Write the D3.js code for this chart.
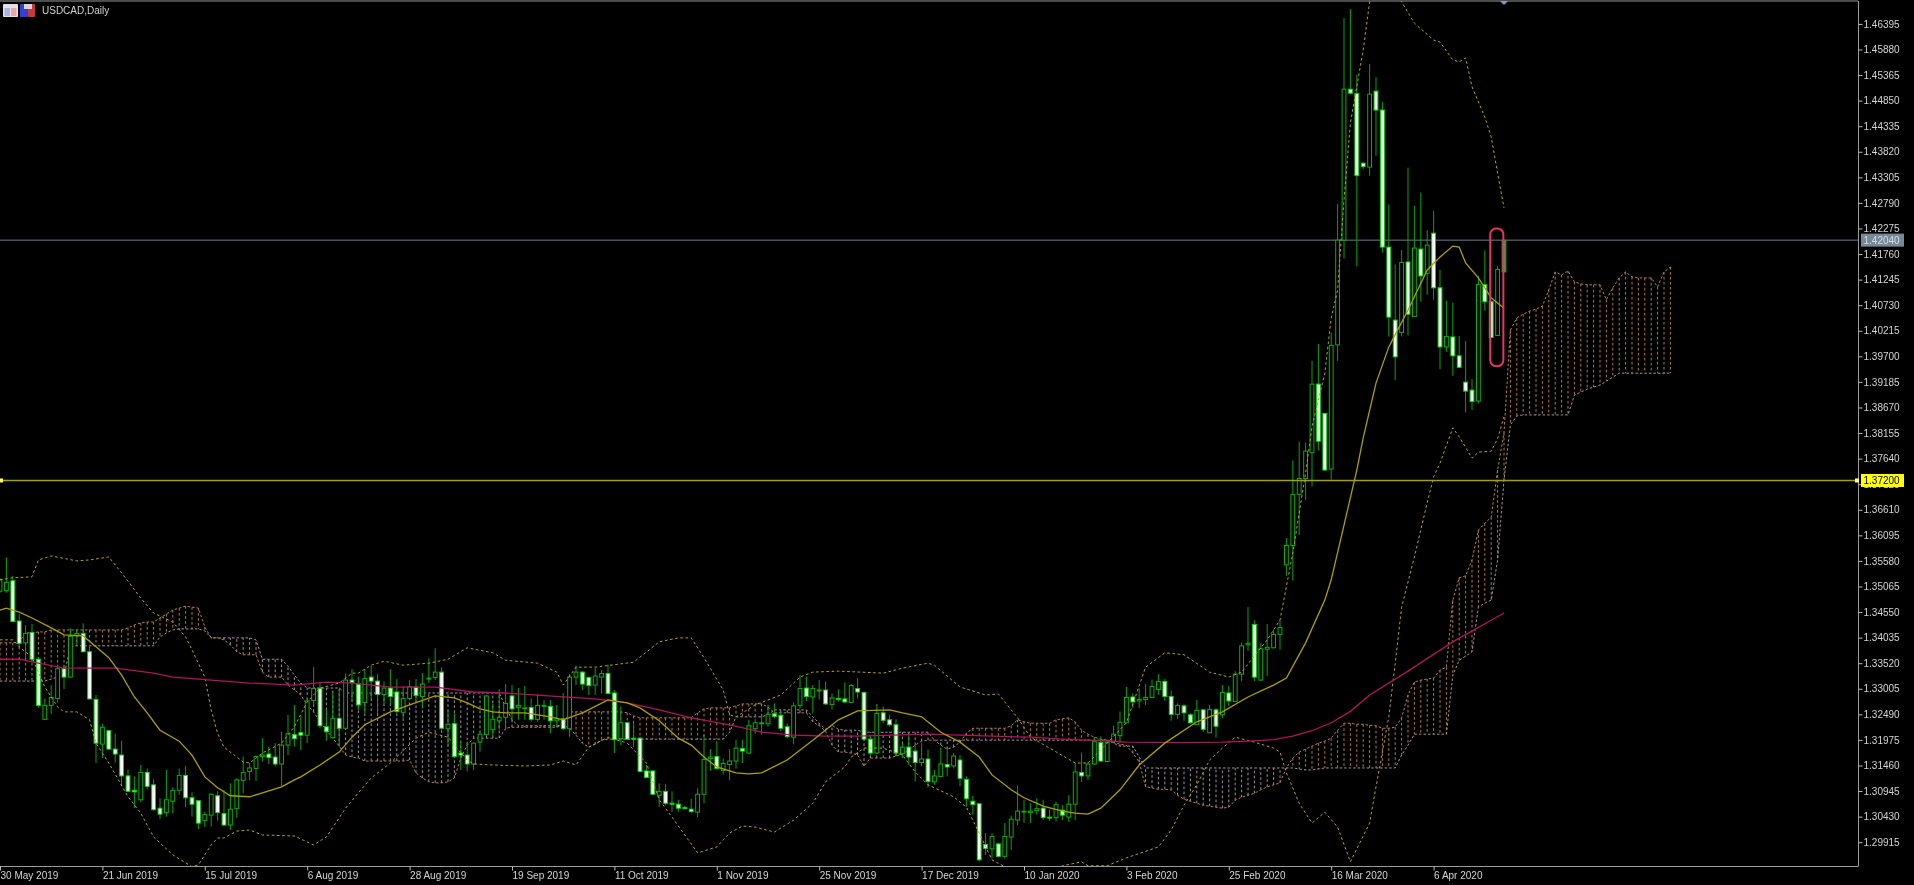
<!DOCTYPE html>
<html><head><meta charset="utf-8">
<script src="https://cdn.jsdelivr.net/npm/d3@7"></script>
<style>html,body{margin:0;padding:0;background:#000;overflow:hidden}svg{display:block}text{font-family:"Liberation Sans",Arial,sans-serif}</style>
</head><body><div id="c"></div>
<script>
const title="USDCAD,Daily";
const priceTicks=["1.46395","1.45880","1.45365","1.44850","1.44335","1.43820","1.43305","1.42790","1.42275","1.41760","1.41245","1.40730","1.40215","1.39700","1.39185","1.38670","1.38155","1.37640","1.37125","1.36610","1.36095","1.35580","1.35065","1.34550","1.34035","1.33520","1.33005","1.32490","1.31975","1.31460","1.30945","1.30430","1.29915"];
const dateTicks=["30 May 2019","21 Jun 2019","15 Jul 2019","6 Aug 2019","28 Aug 2019","19 Sep 2019","11 Oct 2019","1 Nov 2019","25 Nov 2019","17 Dec 2019","10 Jan 2020","3 Feb 2020","25 Feb 2020","16 Mar 2020","6 Apr 2020"];
const dateTickBars=[0,16,32,48,64,80,96,112,128,144,160,176,192,208,224];
const bidLevel=1.42040, lineLevel=1.37200;
const opens=[1.3497,1.3498,1.3518,1.3437,1.3393,1.3414,1.3360,1.3239,1.3267,1.3281,
1.3341,1.3324,1.3407,1.3412,1.3375,1.3279,1.3189,1.3216,1.3179,1.3167,
1.3125,1.3096,1.3077,1.3132,1.3107,1.3060,1.3051,1.3074,1.3096,1.3126,
1.3081,1.3075,1.3035,1.3046,1.3085,1.3049,1.3026,1.3059,1.3116,1.3134,
1.3140,1.3164,1.3169,1.3163,1.3149,1.3187,1.3208,1.3212,1.3207,1.3277,
1.3301,1.3224,1.3202,1.3241,1.3221,1.3318,1.3310,1.3273,1.3324,1.3316,
1.3289,1.3302,1.3294,1.3253,1.3281,1.3304,1.3285,1.3321,1.3323,1.3334,
1.3220,1.3230,1.3171,1.3167,1.3149,1.3193,1.3208,1.3218,1.3236,1.3243,
1.3286,1.3263,1.3260,1.3263,1.3239,1.3265,1.3265,1.3236,1.3240,1.3220,
1.3324,1.3334,1.3323,1.3308,1.3324,1.3331,1.3292,1.3200,1.3232,1.3201,
1.3201,1.3135,1.3135,1.3086,1.3094,1.3070,1.3068,1.3061,1.3058,1.3052,
1.3088,1.3160,1.3164,1.3136,1.3148,1.3155,1.3180,1.3171,1.3220,1.3230,
1.3230,1.3250,1.3247,1.3224,1.3203,1.3267,1.3302,1.3284,1.3297,1.3298,
1.3269,1.3281,1.3280,1.3273,1.3301,1.3293,1.3199,1.3171,1.3252,1.3238,
1.3228,1.3170,1.3183,1.3175,1.3152,1.3159,1.3113,1.3124,1.3148,1.3145,
1.3157,1.3118,1.3074,1.3069,1.2987,1.2978,1.2988,1.2963,1.3002,1.3036,
1.3052,1.3051,1.3055,1.3060,1.3042,1.3041,1.3056,1.3042,1.3068,1.3132,
1.3125,1.3149,1.3192,1.3154,1.3195,1.3206,1.3232,1.3284,1.3276,1.3279,
1.3283,1.3299,1.3315,1.3285,1.3249,1.3266,1.3248,1.3228,1.3258,1.3212,
1.3258,1.3248,1.3292,1.3275,1.3330,1.3389,1.3430,1.3318,1.3380,1.3383,
1.3410,1.3550,1.3589,1.3692,1.3724,1.3776,1.3914,1.3855,1.3743,1.3993,
1.4204,1.4508,1.4499,1.4359,1.4351,1.4504,1.4466,1.4190,1.4043,1.4018,
1.4160,1.4050,1.4186,1.4137,1.4218,1.4108,1.3989,1.4009,1.3971,1.3918,
1.3902,1.3880,1.4114,1.4080,1.4012,1.4140];
const closes=[1.3520,1.3515,1.3436,1.3392,1.3412,1.3360,1.3267,1.3267,1.3283,1.3341,
1.3324,1.3406,1.3412,1.3375,1.3280,1.3191,1.3223,1.3179,1.3169,1.3125,
1.3094,1.3093,1.3132,1.3104,1.3057,1.3048,1.3077,1.3096,1.3126,1.3081,
1.3068,1.3030,1.3047,1.3088,1.3051,1.3026,1.3058,1.3117,1.3132,1.3141,
1.3164,1.3167,1.3162,1.3149,1.3187,1.3210,1.3200,1.3207,1.3276,1.3301,
1.3226,1.3214,1.3241,1.3221,1.3318,1.3313,1.3268,1.3321,1.3316,1.3289,
1.3302,1.3285,1.3255,1.3281,1.3305,1.3287,1.3310,1.3322,1.3334,1.3221,
1.3229,1.3164,1.3167,1.3149,1.3191,1.3209,1.3286,1.3239,1.3243,1.3271,
1.3260,1.3267,1.3262,1.3239,1.3267,1.3267,1.3236,1.3240,1.3220,1.3324,
1.3334,1.3310,1.3307,1.3326,1.3331,1.3291,1.3198,1.3232,1.3199,1.3200,
1.3134,1.3122,1.3088,1.3094,1.3070,1.3069,1.3060,1.3059,1.3053,1.3088,
1.3158,1.3163,1.3140,1.3150,1.3155,1.3181,1.3175,1.3226,1.3232,1.3232,
1.3249,1.3245,1.3221,1.3204,1.3266,1.3301,1.3285,1.3301,1.3298,1.3270,
1.3282,1.3279,1.3274,1.3307,1.3294,1.3199,1.3171,1.3251,1.3237,1.3228,
1.3171,1.3183,1.3163,1.3152,1.3159,1.3114,1.3125,1.3149,1.3143,1.3165,
1.3120,1.3079,1.3067,1.2956,1.2979,1.3003,1.2963,1.3003,1.3038,1.3054,
1.3054,1.3054,1.3059,1.3041,1.3040,1.3067,1.3046,1.3068,1.3133,1.3125,
1.3149,1.3194,1.3155,1.3192,1.3209,1.3233,1.3283,1.3274,1.3279,1.3283,
1.3305,1.3315,1.3285,1.3249,1.3267,1.3252,1.3232,1.3257,1.3219,1.3259,
1.3225,1.3293,1.3276,1.3330,1.3387,1.3392,1.3324,1.3381,1.3384,1.3410,
1.3424,1.3589,1.3692,1.3724,1.3779,1.3914,1.3799,1.3741,1.3992,1.4204,
1.4508,1.4500,1.4334,1.4352,1.4498,1.4466,1.4190,1.4049,1.3969,1.4159,
1.4055,1.4188,1.4132,1.4194,1.4108,1.3989,1.4010,1.3971,1.3948,1.3900,
1.3879,1.4115,1.4080,1.4008,1.4145,1.4204];
const highs=[1.3523,1.3565,1.3528,1.3451,1.3429,1.3431,1.3364,1.3281,1.3308,1.3349,
1.3349,1.3422,1.3420,1.3432,1.3389,1.3288,1.3230,1.3218,1.3210,1.3196,
1.3138,1.3124,1.3147,1.3140,1.3118,1.3080,1.3137,1.3102,1.3140,1.3145,
1.3092,1.3075,1.3053,1.3090,1.3094,1.3096,1.3110,1.3120,1.3164,1.3151,
1.3166,1.3201,1.3184,1.3191,1.3214,1.3248,1.3268,1.3246,1.3281,1.3344,
1.3315,1.3258,1.3293,1.3298,1.3332,1.3340,1.3325,1.3340,1.3347,1.3330,
1.3315,1.3340,1.3320,1.3305,1.3318,1.3320,1.3332,1.3362,1.3382,1.3344,
1.3258,1.3251,1.3194,1.3194,1.3192,1.3211,1.3287,1.3271,1.3300,1.3310,
1.3308,1.3302,1.3306,1.3281,1.3290,1.3278,1.3278,1.3268,1.3292,1.3330,
1.3347,1.3336,1.3325,1.3342,1.3338,1.3349,1.3298,1.3265,1.3234,1.3231,
1.3204,1.3147,1.3135,1.3110,1.3109,1.3094,1.3077,1.3065,1.3079,1.3100,
1.3208,1.3179,1.3195,1.3160,1.3179,1.3198,1.3198,1.3238,1.3239,1.3248,
1.3268,1.3271,1.3255,1.3231,1.3273,1.3328,1.3325,1.3308,1.3318,1.3315,
1.3291,1.3299,1.3313,1.3310,1.3322,1.3295,1.3207,1.3270,1.3265,1.3248,
1.3239,1.3191,1.3207,1.3186,1.3191,1.3178,1.3137,1.3182,1.3181,1.3171,
1.3167,1.3124,1.3085,1.3069,1.3010,1.3010,1.2990,1.3030,1.3045,1.3106,
1.3077,1.3070,1.3080,1.3077,1.3058,1.3073,1.3066,1.3086,1.3151,1.3172,
1.3153,1.3201,1.3205,1.3196,1.3226,1.3255,1.3304,1.3291,1.3301,1.3310,
1.3319,1.3330,1.3320,1.3297,1.3271,1.3269,1.3251,1.3278,1.3259,1.3268,
1.3261,1.3308,1.3306,1.3336,1.3394,1.3465,1.3438,1.3392,1.3431,1.3420,
1.3439,1.3604,1.3760,1.3798,1.3796,1.3961,1.3995,1.3856,1.4018,1.4277,
1.4651,1.4669,1.4537,1.4361,1.4559,1.4532,1.4482,1.4276,1.4155,1.4184,
1.4350,1.4273,1.4300,1.4224,1.4263,1.4144,1.4082,1.4078,1.4011,1.4001,
1.3924,1.4132,1.4183,1.4082,1.4152,1.4204];
const lows=[1.3494,1.3494,1.3434,1.3385,1.3362,1.3355,1.3263,1.3238,1.3250,1.3273,
1.3300,1.3323,1.3389,1.3375,1.3279,1.3151,1.3161,1.3177,1.3152,1.3107,
1.3092,1.3060,1.3072,1.3098,1.3055,1.3038,1.3043,1.3049,1.3087,1.3062,
1.3043,1.3018,1.3022,1.3023,1.3035,1.3026,1.3016,1.3041,1.3090,1.3116,
1.3115,1.3154,1.3149,1.3144,1.3104,1.3167,1.3184,1.3177,1.3191,1.3265,
1.3221,1.3196,1.3201,1.3184,1.3220,1.3275,1.3258,1.3251,1.3281,1.3251,
1.3270,1.3268,1.3251,1.3241,1.3278,1.3275,1.3261,1.3312,1.3318,1.3218,
1.3187,1.3161,1.3137,1.3134,1.3137,1.3174,1.3206,1.3204,1.3218,1.3218,
1.3238,1.3238,1.3238,1.3234,1.3234,1.3238,1.3211,1.3223,1.3218,1.3204,
1.3308,1.3298,1.3288,1.3288,1.3291,1.3289,1.3171,1.3187,1.3198,1.3183,
1.3132,1.3120,1.3087,1.3063,1.3066,1.3053,1.3053,1.3058,1.3051,1.3042,
1.3070,1.3135,1.3137,1.3128,1.3116,1.3140,1.3151,1.3169,1.3210,1.3208,
1.3224,1.3241,1.3215,1.3201,1.3189,1.3261,1.3275,1.3251,1.3279,1.3268,
1.3259,1.3275,1.3271,1.3271,1.3281,1.3197,1.3167,1.3169,1.3231,1.3224,
1.3164,1.3161,1.3147,1.3114,1.3145,1.3102,1.3107,1.3122,1.3124,1.3140,
1.3104,1.3063,1.3047,1.2953,1.2966,1.2959,1.2961,1.2959,1.2976,1.3026,
1.3030,1.3030,1.3047,1.3036,1.3034,1.3033,1.3036,1.3032,1.3036,1.3113,
1.3117,1.3147,1.3153,1.3154,1.3191,1.3191,1.3232,1.3262,1.3262,1.3268,
1.3282,1.3288,1.3276,1.3236,1.3239,1.3236,1.3230,1.3227,1.3214,1.3211,
1.3202,1.3241,1.3266,1.3274,1.3316,1.3377,1.3316,1.3316,1.3326,1.3382,
1.3379,1.3528,1.3518,1.3610,1.3681,1.3708,1.3780,1.3740,1.3722,1.3961,
1.4167,1.4498,1.4151,1.4347,1.4334,1.4374,1.4179,1.4010,1.3922,1.4010,
1.4012,1.4049,1.4080,1.4094,1.4084,1.3944,1.3979,1.3931,1.3946,1.3857,
1.3862,1.3875,1.4062,1.4007,1.4011,1.4140];
const spanA=[1.3393,1.3393,1.3393,1.3395,1.3413,1.3413,1.3415,1.3415,1.3419,1.3419,
1.3419,1.3419,1.3419,1.3419,1.3419,1.3419,1.3419,1.3419,1.3419,1.3419,
1.3423,1.3429,1.3433,1.3435,1.3435,1.3443,1.3451,1.3459,1.3463,1.3467,
1.3465,1.3463,1.3425,1.3403,1.3403,1.3399,1.3389,1.3375,1.3369,1.3369,
1.3369,1.3334,1.3324,1.3324,1.3324,1.3308,1.3298,1.3288,1.3268,1.3254,
1.3234,1.3217,1.3201,1.3185,1.3167,1.3163,1.3161,1.3155,1.3155,1.3155,
1.3155,1.3155,1.3155,1.3155,1.3157,1.3131,1.3121,1.3113,1.3111,1.3111,
1.3113,1.3121,1.3161,1.3187,1.3201,1.3201,1.3201,1.3201,1.3201,1.3221,
1.3223,1.3223,1.3223,1.3223,1.3223,1.3223,1.3223,1.3223,1.3227,1.3254,
1.3254,1.3254,1.3254,1.3254,1.3254,1.3254,1.3254,1.3254,1.3252,1.3246,
1.3242,1.3242,1.3242,1.3242,1.3242,1.3242,1.3242,1.3242,1.3242,1.3252,
1.3260,1.3262,1.3262,1.3262,1.3262,1.3266,1.3270,1.3270,1.3270,1.3270,
1.3264,1.3252,1.3252,1.3252,1.3252,1.3252,1.3252,1.3234,1.3226,1.3215,
1.3187,1.3173,1.3173,1.3171,1.3167,1.3145,1.3161,1.3161,1.3161,1.3161,
1.3165,1.3169,1.3177,1.3187,1.3195,1.3197,1.3197,1.3187,1.3179,1.3183,
1.3193,1.3211,1.3221,1.3221,1.3221,1.3221,1.3221,1.3221,1.3226,1.3238,
1.3234,1.3231,1.3231,1.3231,1.3231,1.3238,1.3240,1.3242,1.3234,1.3217,
1.3209,1.3203,1.3199,1.3197,1.3193,1.3189,1.3187,1.3171,1.3153,1.3103,
1.3101,1.3098,1.3098,1.3097,1.3086,1.3078,1.3074,1.3070,1.3066,1.3064,
1.3062,1.3060,1.3062,1.3076,1.3082,1.3086,1.3090,1.3097,1.3103,1.3107,
1.3111,1.3141,1.3161,1.3173,1.3179,1.3185,1.3191,1.3195,1.3201,1.3217,
1.3231,1.3231,1.3229,1.3229,1.3227,1.3226,1.3221,1.3221,1.3223,1.3242,
1.3288,1.3314,1.3318,1.3320,1.3322,1.3338,1.3344,1.3479,1.3524,1.3528,
1.3560,1.3620,1.3634,1.3646,1.3741,1.3816,1.4023,1.4047,1.4055,1.4061,
1.4065,1.4071,1.4104,1.4140,1.4134,1.4142,1.4120,1.4116,1.4114,1.4114,
1.4114,1.4084,1.4108,1.4128,1.4140,1.4130,1.4128,1.4128,1.4128,1.4110,
1.4140,1.4150];
const spanB=[1.3316,1.3316,1.3316,1.3316,1.3316,1.3316,1.3316,1.3316,1.3320,1.3324,
1.3328,1.3385,1.3387,1.3387,1.3387,1.3387,1.3387,1.3387,1.3387,1.3387,
1.3387,1.3387,1.3387,1.3387,1.3387,1.3405,1.3413,1.3419,1.3421,1.3421,
1.3421,1.3421,1.3417,1.3403,1.3403,1.3403,1.3403,1.3403,1.3403,1.3403,
1.3399,1.3360,1.3360,1.3360,1.3360,1.3346,1.3328,1.3312,1.3302,1.3302,
1.3302,1.3302,1.3302,1.3302,1.3292,1.3292,1.3292,1.3292,1.3292,1.3292,
1.3292,1.3292,1.3292,1.3292,1.3292,1.3292,1.3292,1.3292,1.3292,1.3292,
1.3292,1.3292,1.3292,1.3292,1.3292,1.3292,1.3292,1.3292,1.3292,1.3264,
1.3238,1.3226,1.3226,1.3226,1.3226,1.3226,1.3226,1.3226,1.3227,1.3221,
1.3207,1.3191,1.3183,1.3189,1.3197,1.3199,1.3199,1.3199,1.3199,1.3199,
1.3199,1.3199,1.3199,1.3199,1.3199,1.3199,1.3199,1.3199,1.3199,1.3199,
1.3199,1.3199,1.3199,1.3199,1.3213,1.3244,1.3244,1.3244,1.3244,1.3244,
1.3248,1.3258,1.3258,1.3258,1.3258,1.3258,1.3258,1.3244,1.3231,1.3219,
1.3227,1.3219,1.3217,1.3217,1.3217,1.3213,1.3213,1.3213,1.3213,1.3213,
1.3213,1.3213,1.3213,1.3213,1.3213,1.3213,1.3197,1.3197,1.3197,1.3197,
1.3197,1.3197,1.3197,1.3197,1.3197,1.3197,1.3197,1.3197,1.3197,1.3197,
1.3197,1.3197,1.3197,1.3197,1.3197,1.3197,1.3197,1.3197,1.3197,1.3197,
1.3197,1.3197,1.3197,1.3197,1.3191,1.3185,1.3185,1.3185,1.3163,1.3141,
1.3141,1.3141,1.3141,1.3141,1.3141,1.3141,1.3141,1.3141,1.3141,1.3141,
1.3141,1.3141,1.3141,1.3141,1.3141,1.3141,1.3141,1.3141,1.3141,1.3141,
1.3141,1.3141,1.3141,1.3139,1.3137,1.3137,1.3139,1.3141,1.3141,1.3141,
1.3141,1.3141,1.3141,1.3141,1.3141,1.3141,1.3141,1.3141,1.3141,1.3167,
1.3187,1.3209,1.3209,1.3209,1.3209,1.3209,1.3209,1.3328,1.3358,1.3366,
1.3375,1.3465,1.3473,1.3479,1.3560,1.3721,1.3832,1.3850,1.3852,1.3852,
1.3852,1.3852,1.3852,1.3852,1.3852,1.3852,1.3892,1.3898,1.3904,1.3908,
1.3912,1.3920,1.3928,1.3936,1.3936,1.3936,1.3936,1.3936,1.3936,1.3936,
1.3936,1.3936];
const maBars=[0,1,3,5,8,10,13,15,17,19,21,23,25,28,30,32,34,36,39,41,44,46,47,50,53,55,57,61,64,68,71,73,75,77,79,82,86,88,91,95,98,100,103,106,108,110,112,115,117,119,123,127,131,134,139,141,144,147,150,153,155,158,160,163,166,168,170,172,175,178,182,187,191,195,199,201,204,207,208,210,212,213,215,217,220,223,225,227,228,229,231,233,235];
const maVals=[1.3459,1.3463,1.3455,1.3443,1.3423,1.3409,1.3407,1.3385,1.3363,1.3328,1.3284,1.3252,1.3217,1.3195,1.3167,1.3123,1.3101,1.3085,1.3083,1.3091,1.3103,1.3117,1.3123,1.3147,1.3173,1.3203,1.3228,1.3254,1.3268,1.3286,1.3282,1.3272,1.3260,1.3254,1.3252,1.3252,1.3244,1.3238,1.3252,1.3278,1.3272,1.3262,1.3236,1.3201,1.3187,1.3163,1.3143,1.3131,1.3129,1.3131,1.3157,1.3197,1.3238,1.3256,1.3258,1.3252,1.3244,1.3213,1.3193,1.3163,1.3127,1.3097,1.3081,1.3064,1.3054,1.3050,1.3048,1.3060,1.3097,1.3147,1.3191,1.3234,1.3254,1.3284,1.3308,1.3322,1.3393,1.3479,1.3520,1.3630,1.3741,1.3806,1.3916,1.3989,1.4063,1.4144,1.4170,1.4192,1.4190,1.4158,1.4128,1.4088,1.4067];
const upperBars=[0,2,5,6,8,12,14,17,19,22,24,27,29,30,32,33,34,35,38,39,41,44,46,48,50,53,55,56,58,60,63,67,70,73,77,79,84,87,88,90,93,99,103,106,108,110,113,114,115,118,122,125,127,131,138,141,145,146,150,154,156,159,161,164,168,170,173,176,179,182,185,189,192,194,198,200,202,204,205,207,208,209,210,211,213,214,216,218,219,221,224,225,227,228,229,230,232,233,234,235];
const upperVals=[1.3520,1.3524,1.3526,1.3560,1.3568,1.3558,1.3560,1.3566,1.3534,1.3483,1.3453,1.3435,1.3405,1.3379,1.3324,1.3258,1.3211,1.3183,1.3153,1.3151,1.3171,1.3191,1.3224,1.3274,1.3302,1.3312,1.3332,1.3332,1.3348,1.3356,1.3348,1.3352,1.3360,1.3383,1.3373,1.3358,1.3352,1.3334,1.3308,1.3344,1.3344,1.3354,1.3395,1.3403,1.3403,1.3363,1.3298,1.3248,1.3244,1.3268,1.3288,1.3324,1.3334,1.3336,1.3332,1.3342,1.3352,1.3348,1.3304,1.3288,1.3290,1.3242,1.3203,1.3181,1.3151,1.3151,1.3191,1.3232,1.3344,1.3373,1.3369,1.3334,1.3324,1.3334,1.3399,1.3439,1.3574,1.3735,1.3828,1.3936,1.4047,1.4103,1.4285,1.4440,1.4587,1.4684,1.4728,1.4718,1.4684,1.4641,1.4607,1.4603,1.4567,1.4563,1.4571,1.4513,1.4452,1.4412,1.4339,1.4269];
const lowerBars=[0,2,3,5,7,9,10,12,14,15,17,20,22,24,27,30,31,33,34,35,37,39,41,46,49,51,54,56,58,61,65,67,70,71,73,74,77,82,86,88,90,92,95,98,101,103,105,109,112,114,116,118,121,124,127,129,132,133,135,138,141,143,145,149,151,153,155,157,160,163,166,169,170,173,176,181,183,185,187,189,191,193,196,199,200,201,203,205,207,209,211,214,215,217,218,219,221,223,224,225,227,228,230,231,233,234,235];
const lowerVals=[1.3399,1.3399,1.3385,1.3364,1.3304,1.3264,1.3254,1.3254,1.3238,1.3191,1.3151,1.3083,1.3050,1.3002,1.2966,1.2942,1.2946,1.2986,1.3000,1.3000,1.3014,1.3016,1.3006,1.3004,1.2986,1.3002,1.3060,1.3091,1.3121,1.3151,1.3201,1.3213,1.3203,1.3187,1.3157,1.3149,1.3147,1.3145,1.3147,1.3155,1.3147,1.3183,1.3203,1.3191,1.3151,1.3077,1.3042,1.2970,1.2982,1.3010,1.3024,1.3022,1.3012,1.3036,1.3070,1.3113,1.3143,1.3163,1.3181,1.3181,1.3167,1.3133,1.3107,1.3083,1.3062,1.3010,1.2956,1.2942,1.2916,1.2925,1.2944,1.2952,1.2944,1.2944,1.2960,1.2982,1.3016,1.3066,1.3107,1.3157,1.3181,1.3203,1.3193,1.3181,1.3173,1.3131,1.3070,1.3030,1.3052,1.3022,1.2952,1.3030,1.3103,1.3244,1.3352,1.3465,1.3566,1.3675,1.3727,1.3755,1.3826,1.3808,1.3765,1.3777,1.3779,1.3804,1.3848];
const ma200Bars=[0,3,6,10,18,24,27,31,39,46,51,55,61,68,74,79,88,93,98,103,108,114,119,124,129,134,145,155,161,166,173,176,185,191,195,199,202,205,208,211,214,220,227,235];
const ma200Vals=[1.3360,1.3360,1.3352,1.3342,1.3342,1.3332,1.3324,1.3320,1.3312,1.3308,1.3314,1.3312,1.3304,1.3304,1.3294,1.3292,1.3284,1.3280,1.3272,1.3258,1.3242,1.3228,1.3213,1.3207,1.3205,1.3205,1.3209,1.3205,1.3203,1.3199,1.3195,1.3193,1.3192,1.3193,1.3195,1.3198,1.3205,1.3216,1.3232,1.3255,1.3288,1.3336,1.3395,1.3453];
const highlightBox={bar0:232.85,bar1:234.9,top:1.42275,bottom:1.3950};

const W=1914,H=885,plotR=1858,plotT=1,plotB=866.5;
const x=d3.scaleLinear().domain([0,235]).range([0,1504]);
const y=d3.scaleLinear().domain([1.46395,1.29915]).range([23.9,842.2]);
const svg=d3.select("#c").append("svg").attr("width",W).attr("height",H).style("background","#000");
const defs=svg.append("defs");
defs.append("clipPath").attr("id","plot").append("rect").attr("x",0).attr("y",plotT).attr("width",plotR).attr("height",plotB-plotT);
const soft=defs.append("filter").attr("id","soft").attr("x","-1%").attr("y","-1%").attr("width","102%").attr("height","102%");
soft.append("feGaussianBlur").attr("stdDeviation",0.25);
const root=svg.append("g").attr("filter","url(#soft)");
const g=root.append("g").attr("clip-path","url(#plot)");

/* cloud */
const cloud=g.append("g");
const bars=d3.range(spanA.length);
cloud.selectAll("line.h").data(bars).join("line").attr("class","h")
 .attr("x1",i=>x(i)).attr("x2",i=>x(i))
 .attr("y1",i=>y(spanA[i])).attr("y2",i=>y(spanB[i]))
 .attr("stroke",i=>spanA[i]>=spanB[i]?"#b5794a":"#a4939f")
 .attr("stroke-width",1).attr("stroke-dasharray","2.6,2.4");
const kumo=d3.line().x(d=>x(d[0])).y(d=>y(d[1]));
cloud.append("path").attr("d",kumo(bars.map(i=>[i,spanA[i]]))).attr("fill","none").attr("stroke","#b87f50").attr("stroke-width",1).attr("stroke-dasharray","2.5,2");
cloud.append("path").attr("d",kumo(bars.map(i=>[i,spanB[i]]))).attr("fill","none").attr("stroke","#a4939f").attr("stroke-width",1).attr("stroke-dasharray","2.5,2");

/* reference lines */
g.append("line").attr("x1",0).attr("x2",plotR).attr("y1",y(bidLevel)).attr("y2",y(bidLevel)).attr("stroke","#6f7f8f").attr("stroke-width",1);

/* candles */
const idx=d3.range(opens.length);
const cg=g.append("g");
cg.selectAll("line.w").data(idx).join("line").attr("class","w")
 .attr("x1",i=>x(i)).attr("x2",i=>x(i)).attr("y1",i=>y(highs[i])).attr("y2",i=>y(lows[i]))
 .attr("stroke","#00a800").attr("stroke-width",1);
cg.selectAll("rect.b").data(idx).join("rect").attr("class","b")
 .attr("x",i=>x(i)-1.9).attr("width",3.8)
 .attr("y",i=>y(Math.max(opens[i],closes[i])))
 .attr("height",i=>Math.max(1,Math.abs(y(opens[i])-y(closes[i]))))
 .attr("fill",i=>i===idx.length-1?"#5f8f60":(closes[i]>=opens[i]?"#000":"#fff"))
 .attr("stroke",i=>closes[i]>=opens[i]?"#00b400":"#00e000")
 .attr("stroke-width",1);

/* indicators */
const L=d3.line().x(d=>x(d[0])).y(d=>y(d[1]));
const zip=(a,b)=>a.map((v,k)=>[v,b[k]]);
g.append("path").attr("d",L(zip(upperBars,upperVals))).attr("fill","none").attr("stroke","#b8a800").attr("stroke-width",1).attr("stroke-dasharray","2.6,2.6");
g.append("path").attr("d",L(zip(lowerBars,lowerVals))).attr("fill","none").attr("stroke","#b8a800").attr("stroke-width",1).attr("stroke-dasharray","2.6,2.6");
g.append("path").attr("d",L(zip(ma200Bars,ma200Vals))).attr("fill","none").attr("stroke","#b0145e").attr("stroke-width",1.3);
g.append("path").attr("d",L(zip(maBars,maVals))).attr("fill","none").attr("stroke","#aca000").attr("stroke-width",1.3);
g.append("line").attr("x1",0).attr("x2",plotR).attr("y1",y(lineLevel)).attr("y2",y(lineLevel)).attr("stroke","#a4a400").attr("stroke-width",1.5);

/* highlight */
g.append("rect").attr("x",x(highlightBox.bar0)).attr("width",x(highlightBox.bar1)-x(highlightBox.bar0))
 .attr("y",y(highlightBox.top)).attr("height",y(highlightBox.bottom)-y(highlightBox.top))
 .attr("rx",6).attr("fill","none").attr("stroke","#e8326e").attr("stroke-width",2);

/* frame */
const fr=root.append("g").attr("stroke","#9a9a9a").attr("stroke-width",1);
fr.append("line").attr("x1",0).attr("x2",plotR).attr("y1",1).attr("y2",1);
fr.append("line").attr("x1",plotR+0.5).attr("x2",plotR+0.5).attr("y1",1).attr("y2",plotB);
fr.append("line").attr("x1",0).attr("x2",plotR).attr("y1",plotB).attr("y2",plotB);

/* axes */
const ay=d3.axisRight(y).tickValues(priceTicks.map(Number)).tickFormat((d,i)=>priceTicks[i]).tickSize(4).tickPadding(1);
const gy=root.append("g").attr("transform",`translate(${plotR+0.5},0)`).call(ay);
gy.select(".domain").remove();
gy.selectAll("line").attr("stroke","#bbb");
gy.selectAll("text").attr("fill","#d4d4d4").attr("font-size",10).attr("font-family",'"Liberation Sans",Arial,sans-serif');
const ax=d3.axisBottom(x).tickValues(dateTickBars).tickFormat((d,i)=>dateTicks[i]).tickSize(4).tickPadding(1);
const gx=root.append("g").attr("transform",`translate(0,${plotB})`).call(ax);
gx.select(".domain").remove();
gx.selectAll("line").attr("stroke","#bbb");
gx.selectAll("text").attr("fill","#d4d4d4").attr("font-size",10).attr("text-anchor","start").attr("font-family",'"Liberation Sans",Arial,sans-serif');

/* price tags */
function tag(v,bg,fg,label){
 const yy=y(v);
 root.append("rect").attr("x",1861).attr("y",yy-6.5).attr("width",43).attr("height",13).attr("fill",bg);
 root.append("text").attr("x",1863.5).attr("y",yy+3.6).attr("font-size",10).attr("fill",fg).text(label);
}
tag(bidLevel,"#778899","#d8dde2","1.42040");
tag(lineLevel,"#ffff00","#000","1.37200");
root.append("rect").attr("x",1855).attr("y",y(lineLevel)-2).attr("width",4).attr("height",4).attr("fill","#ffffa0");
root.append("rect").attr("x",0).attr("y",y(lineLevel)-2).attr("width",3).attr("height",4).attr("fill","#ffff40");
root.append("path").attr("d",`M${x(235)-4},1L${x(235)+4},1L${x(235)},5Z`).attr("fill","#8a9bb0");

/* title and icons */
root.append("text").attr("x",42).attr("y",14).attr("font-size",10).attr("fill","#d0d0d0").text(title);
const ic=root.append("g");
ic.append("rect").attr("x",3).attr("y",4).attr("width",15).attr("height",13).attr("rx",1).attr("fill","#e8e0e8");
ic.append("rect").attr("x",4.5).attr("y",8).attr("width",5.5).attr("height",8).attr("fill","#aab4e8");
ic.append("rect").attr("x",11).attr("y",8).attr("width",5.5).attr("height",8).attr("fill","#e8a8a8");
ic.append("rect").attr("x",20).attr("y",4).attr("width",8).attr("height",13).attr("rx",1).attr("fill","#3040d8");
ic.append("rect").attr("x",28).attr("y",4).attr("width",7).attr("height",13).attr("rx",1).attr("fill","#c83838");
ic.append("rect").attr("x",24).attr("y",4).attr("width",8).attr("height",5).attr("fill","#d8d8d8");
</script></body></html>
